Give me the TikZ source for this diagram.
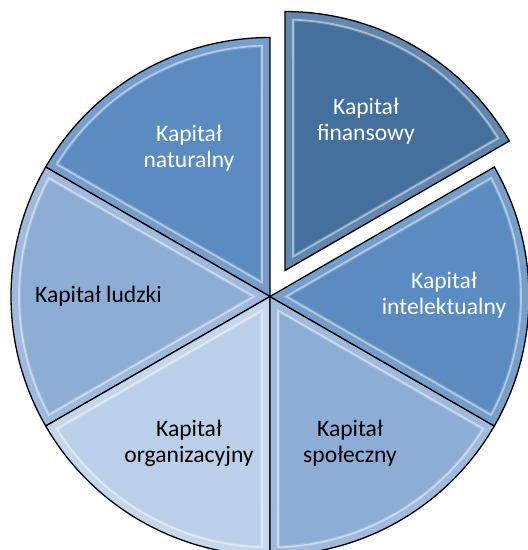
\documentclass[tikz,border=0pt]{standalone}
\usepackage{fontspec}
\setmainfont{Carlito}
\usetikzlibrary{calc}
\definecolor{finC}{HTML}{44709D}
\definecolor{midC}{HTML}{5B8CC1}
\definecolor{lightC}{HTML}{8DADD6}
\definecolor{paleC}{HTML}{BCCFE8}
\newcommand\pieslice[4]{% #1 start, #2 end, #3 colour, #4 apex coordinate name
  \pgfmathsetmacro\bis{(#1+#2)/2}
  \pgfmathsetmacro\sa{#1+1.8}
  \pgfmathsetmacro\ea{#2-1.8}
  \begin{scope}
    \clip (#4) -- ++(#1:\R) arc[start angle=#1,end angle=#2,radius=\R] -- cycle;
    \fill[#3] (#4) -- ++(#1:\R) arc[start angle=#1,end angle=#2,radius=\R] -- cycle;
    \draw[rimglow] (#4) -- ++(#1:\R) arc[start angle=#1,end angle=#2,radius=\R] -- cycle;
    \draw[rimline] ($(#4)+(\bis:16)$) -- ($(#4)+(\sa:251)$) arc[start angle=\sa,end angle=\ea,radius=251] -- cycle;
  \end{scope}
  \draw[sliceedge] (#4) -- ++(#1:\R) arc[start angle=#1,end angle=#2,radius=\R] -- cycle;
}
\tikzset{
  sliceedge/.style={line width=1.3pt,black,line join=miter},
  rimglow/.style={white,opacity=0.16,line width=20pt},
  rimline/.style={white,opacity=0.45,line width=1.8pt},
  lbl/.style={align=center,font=\fontsize{23.6}{26}\selectfont,inner sep=0pt},
  lblw/.style={lbl,text=white},
  lblb/.style={lbl,text=black}
}
\begin{document}
\begin{tikzpicture}[x=1pt,y=1pt]
\def\R{259}
\useasboundingbox (0,0) rectangle (528,-550);
\fill[white] (0,0) rectangle (528,-550);
\clip (0,0) rectangle (528,-550);
\coordinate (c) at (270,-296.5);
\coordinate (cf) at ($(c)+(60:30)$);
\pieslice{90}{150}{midC}{c}
\pieslice{150}{210}{lightC}{c}
\pieslice{210}{270}{paleC}{c}
\pieslice{270}{330}{lightC}{c}
\pieslice{330}{390}{midC}{c}
\pieslice{30}{90}{finC}{cf}
\node[lblw] (nat) at (189,-148) {Kapitał\\naturalny};
\node[lblw] (fin) at (366,-121) {Kapitał\\finansowy};
\node[lblw] (int) at (444,-295) {Kapitał\\intelektualny};
\node[lblb] (lud) at (98.5,-296) {Kapitał ludzki};
\node[lblb] (org) at (189,-443) {Kapitał\\organizacyjny};
\node[lblb] (spo) at (350,-443) {Kapitał\\społeczny};
\end{tikzpicture}
\end{document}
